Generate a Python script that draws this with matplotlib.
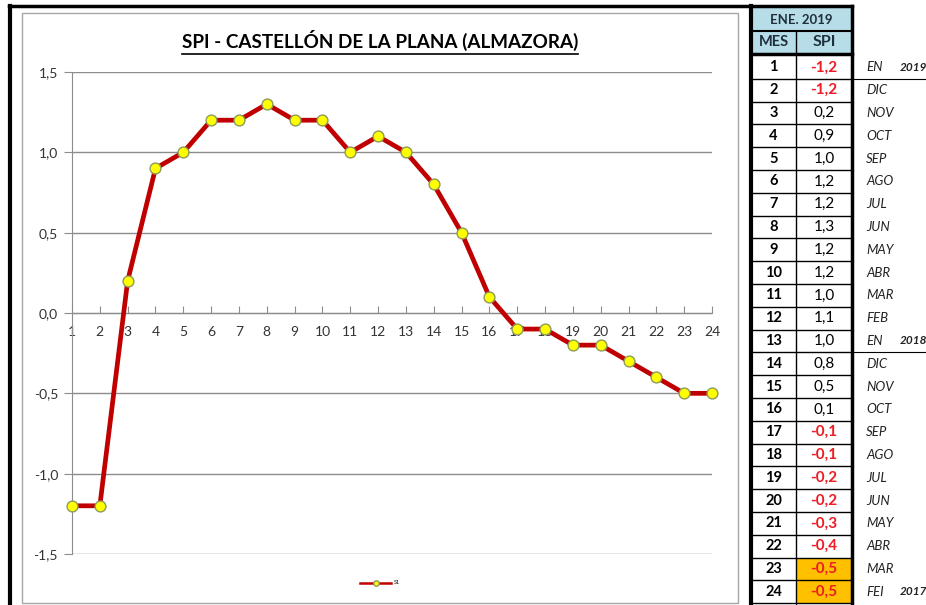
import matplotlib
matplotlib.use("Agg")
import matplotlib.pyplot as plt
from matplotlib.patches import Rectangle
from matplotlib.lines import Line2D

plt.rcParams['font.family'] = ['Lato', 'DejaVu Sans']

# ---- data ----
meses = list(range(1, 25))
spi = [-1.2, -1.2, 0.2, 0.9, 1.0, 1.2, 1.2, 1.3, 1.2, 1.2, 1.0, 1.1,
       1.0, 0.8, 0.5, 0.1, -0.1, -0.1, -0.2, -0.2, -0.3, -0.4, -0.5, -0.5]
month_labels = ['EN', 'DIC', 'NOV', 'OCT', 'SEP', 'AGO', 'JUL', 'JUN', 'MAY', 'ABR', 'MAR', 'FEB',
                'EN', 'DIC', 'NOV', 'OCT', 'SEP', 'AGO', 'JUL', 'JUN', 'MAY', 'ABR', 'MAR', 'FEI']
year_labels = {1: '2019', 13: '2018', 24: '2017'}
yticks = [-1.5, -1.0, -0.5, 0.0, 0.5, 1.0, 1.5]
title = 'SPI - CASTELLÓN DE LA PLANA (ALMAZORA)'
table_header = 'ENE. 2019'
highlight_rows = [23, 24]

W, H = 926, 605
fig = plt.figure(figsize=(W / 100, H / 100), dpi=100)
fig.patch.set_facecolor('white')


def fx(x):
    return x / W


def fy(y):
    return 1 - y / H


def rect(x0, y0, x1, y1, **kw):
    r = Rectangle((fx(x0), fy(y1)), fx(x1) - fx(x0), fy(y0) - fy(y1),
                  transform=fig.transFigure, **kw)
    fig.add_artist(r)


def line(x0, y0, x1, y1, **kw):
    fig.add_artist(Line2D([fx(x0), fx(x1)], [fy(y0), fy(y1)], transform=fig.transFigure, **kw))


# ---- chart frame ----
line(9, 6, 750, 6, color='black', lw=2.5)
line(10, 6, 10, 605, color='black', lw=3)
rect(22, 13, 738, 603, fill=False, edgecolor='#a6a6a6', lw=1.0)

# ---- axes ----
ax = fig.add_axes([fx(72), fy(554), fx(712) - fx(72), fy(72) - fy(554)])
ax.set_xlim(1, 24)
ax.set_ylim(-1.5, 1.5)
ax.patch.set_alpha(0)
for yv in yticks:
    ax.axhline(yv, color='#8c8c8c', lw=1.0, zorder=0.5)
ax.spines['top'].set_visible(False)
ax.spines['right'].set_visible(False)
ax.spines['left'].set_color('#8c8c8c')
ax.spines['bottom'].set_color('#8c8c8c')
ax.spines['bottom'].set_position(('data', 0))
ax.set_yticks(yticks)
ax.set_yticklabels([f'{v:.1f}'.replace('.', ',') for v in yticks], fontsize=10, color='#333333')
ax.set_xticks(meses)
ax.set_xticklabels([str(m) for m in meses], fontsize=10, color='#333333')
ax.tick_params(axis='y', direction='out', length=6, color='#8c8c8c', pad=4)
ax.tick_params(axis='x', direction='in', length=5, color='#8c8c8c', pad=9)

ln, = ax.plot(meses, spi, color='#c00000', lw=3.4, marker='o', markersize=7.8,
              markerfacecolor='#ffff00', markeredgecolor='#8d9a5a', markeredgewidth=1.0,
              clip_on=False, zorder=3, label='S1')

leg = ax.legend(handles=[ln], loc='center', bbox_to_anchor=(fx(380), fy(583)),
                bbox_transform=fig.transFigure, frameon=False, fontsize=4,
                handlelength=5.5, handletextpad=0.5, markerscale=0.5)
leg.get_lines()[0].set_linewidth(1.8)

# ---- title ----
t = fig.text(fx(380), fy(40), title, ha='center', va='center', fontsize=13.6,
             fontweight='bold', color='black')
fig.canvas.draw()
bb = t.get_window_extent(renderer=fig.canvas.get_renderer())
line(bb.x0, H - bb.y0 + 3, bb.x1, H - bb.y0 + 3, color='black', lw=1.2)

# ---- table ----
tl, tm, tr = 751, 796, 852
hdr_top, hdr_mid, hdr_bot = 8, 31, 53
row_top, row_h = 56, 22.8

rect(tl, hdr_top, tr, hdr_bot, facecolor='#b7dde8', edgecolor='none')
fig.text(fx((tl + tr) / 2), fy((hdr_top + hdr_mid) / 2), table_header, ha='center', va='center',
         fontsize=9.5, fontweight='bold', color='#1f2f3f')
fig.text(fx((tl + tm) / 2), fy((hdr_mid + hdr_bot) / 2), 'MES', ha='center', va='center',
         fontsize=10.5, fontweight='bold', color='#1f2f3f')
fig.text(fx((tm + tr) / 2), fy((hdr_mid + hdr_bot) / 2), 'SPI', ha='center', va='center',
         fontsize=11.5, fontweight='bold', color='#1f2f3f')
line(tl, hdr_mid, tr, hdr_mid, color='black', lw=1.5)
line(tm, hdr_mid, tm, hdr_bot, color='black', lw=1.0)

for i, (m, v, lab) in enumerate(zip(meses, spi, month_labels)):
    y0 = row_top + i * row_h
    y1 = y0 + row_h
    yc = (y0 + y1) / 2
    if m in highlight_rows:
        rect(tm, y0, tr, y1, facecolor='#ffc000', edgecolor='none')
    fig.text(fx((tl + tm) / 2), fy(yc), str(m), ha='center', va='center',
             fontsize=10.5, fontweight='bold', color='black')
    neg = v < 0
    fig.text(fx((tm + tr) / 2), fy(yc), f'{v:.1f}'.replace('.', ','), ha='center', va='center',
             fontsize=11, fontweight='bold' if neg else 'normal',
             color='#ee1c25' if neg else 'black')
    fig.text(fx(866), fy(yc), lab, ha='left', va='center', fontsize=9.5,
             fontstyle='italic', color='#222222')
    if m in year_labels:
        fig.text(fx(900), fy(yc), year_labels[m], ha='left', va='center', fontsize=8.5,
                 fontstyle='italic', fontweight='bold', color='#222222')
    line(tl, y1, tr, y1, color='black', lw=1.0)

line(tm, row_top, tm, 605, color='black', lw=1.0)
line(tl, hdr_bot + 1, tr, hdr_bot + 1, color='black', lw=2.5)
line(tl, 6, tr, 6, color='black', lw=2.5)
line(tl, 6, tl, 605, color='black', lw=3)
line(tr, 6, tr, 605, color='black', lw=2.5)
# separators in month column
line(tr, row_top + 1 * row_h, 926, row_top + 1 * row_h, color='black', lw=0.8)
line(tr, row_top + 13 * row_h, 926, row_top + 13 * row_h, color='black', lw=0.8)

fig.savefig('out.png', dpi=100)
